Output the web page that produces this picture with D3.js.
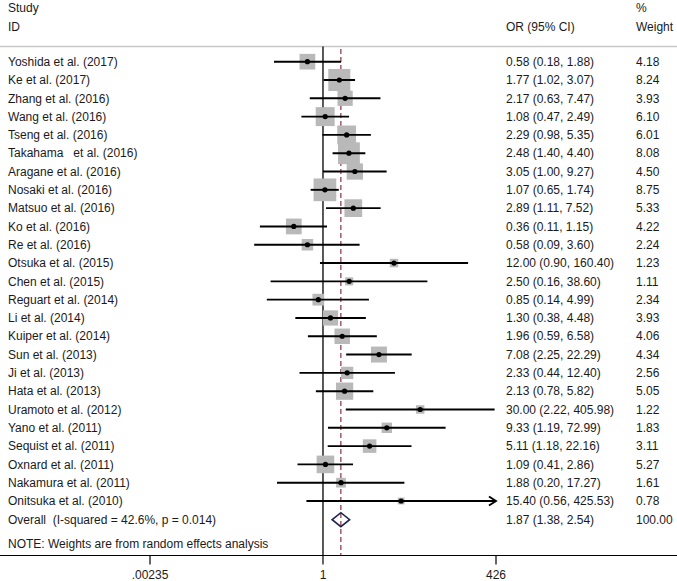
<!DOCTYPE html>
<html><head><meta charset="utf-8">
<script src="https://cdn.jsdelivr.net/npm/d3@7"></script>
<style>
body{margin:0;background:#fff;}
svg{display:block;font-family:"Liberation Sans",Arial,sans-serif;}
text{white-space:pre;}
</style></head>
<body><svg id="c" width="677" height="581"></svg>
<script>
const studies = ["Yoshida et al. (2017)","Ke et al. (2017)","Zhang et al. (2016)","Wang et al. (2016)","Tseng et al. (2016)","Takahama   et al. (2016)","Aragane et al. (2016)","Nosaki et al. (2016)","Matsuo et al. (2016)","Ko et al. (2016)","Re et al. (2016)","Otsuka et al. (2015)","Chen et al. (2015)","Reguart et al. (2014)","Li et al. (2014)","Kuiper et al. (2014)","Sun et al. (2013)","Ji et al. (2013)","Hata et al. (2013)","Uramoto et al. (2012)","Yano et al. (2011)","Sequist et al. (2011)","Oxnard et al. (2011)","Nakamura et al. (2011)","Onitsuka et al. (2010)"];
const orValues = [0.58,1.77,2.17,1.08,2.29,2.48,3.05,1.07,2.89,0.36,0.58,12.00,2.50,0.85,1.30,1.96,7.08,2.33,2.13,30.00,9.33,5.11,1.09,1.88,15.40];
const lowerCI = [0.18,1.02,0.63,0.47,0.98,1.40,1.00,0.65,1.11,0.11,0.09,0.90,0.16,0.14,0.38,0.59,2.25,0.44,0.78,2.22,1.19,1.18,0.41,0.20,0.56];
const upperCI = [1.88,3.07,7.47,2.49,5.35,4.40,9.27,1.74,7.52,1.15,3.60,160.40,38.60,4.99,4.48,6.58,22.29,12.40,5.82,405.98,72.99,22.16,2.86,17.27,425.53];
const weights = [4.18,8.24,3.93,6.10,6.01,8.08,4.50,8.75,5.33,4.22,2.24,1.23,1.11,2.34,3.93,4.06,4.34,2.56,5.05,1.22,1.83,3.11,5.27,1.61,0.78];
const overall = {label:"Overall  (I-squared = 42.6%, p = 0.014)", or:1.87, lo:1.38, hi:2.54, w:100.00};
const tickValues = [0.00235, 1, 426];
const tickLabels = [".00235", "1", "426"];
const noteText = "NOTE: Weights are from random effects analysis";

const svg = d3.select("#c");
const x = d3.scaleLog().domain([0.00235, 426]).range([150, 496]);
const y = d3.scalePoint().domain(d3.range(studies.length)).range([61.7, 501]);
const yOverall = 519.7;
const side = d3.scaleSqrt().domain([0, 8.75]).range([0, 22.7]);
const txt = "#1a1a1a";
const fs = 12;

function t(xp, yp, s, anchor){
  return svg.append("text").attr("x", xp).attr("y", yp).attr("dy","0.35em")
    .attr("font-size", fs).attr("fill", txt).attr("text-anchor", anchor||"start").text(s);
}

// header
t(8, 8, "Study"); t(8, 27, "ID");
t(506, 27, "OR (95% CI)");
t(636, 8, "%"); t(636, 27, "Weight");
svg.append("line").attr("x1",0).attr("x2",677).attr("y1",46.5).attr("y2",46.5)
  .attr("stroke","#c8c8c8").attr("stroke-width",1.5);

// axis
const axisY = 555.5;
svg.append("line").attr("x1",0).attr("x2",677).attr("y1",axisY).attr("y2",axisY)
  .attr("stroke","#000").attr("stroke-width",1.2);
tickValues.forEach((v,i)=>{
  svg.append("line").attr("x1",x(v)).attr("x2",x(v)).attr("y1",axisY).attr("y2",axisY+9)
    .attr("stroke","#000").attr("stroke-width",1.2);
  t(x(v), 575, tickLabels[i], "middle");
});

// null line
svg.append("line").attr("x1",x(1)).attr("x2",x(1)).attr("y1",46.5).attr("y2",axisY)
  .attr("stroke","#000").attr("stroke-width",1.3);
// overall dashed line
svg.append("line").attr("x1",x(overall.or)).attr("x2",x(overall.or)).attr("y1",49).attr("y2",axisY)
  .attr("stroke","#8b1a2b").attr("stroke-width",1.1).attr("stroke-dasharray","5,3");

// squares
const g = svg.append("g");
studies.forEach((s,i)=>{
  const cx = x(orValues[i]), cy = y(i), w = side(weights[i]);
  g.append("rect").attr("x", cx - w/2).attr("y", cy - w/2).attr("width", w).attr("height", w)
    .attr("fill","#b9b9b9");
});
studies.forEach((s,i)=>{
  const cy = y(i);
  const hiX = Math.min(x(upperCI[i]), x.range()[1]);
  g.append("line").attr("x1", x(lowerCI[i])).attr("x2", hiX).attr("y1", cy).attr("y2", cy)
    .attr("stroke","#000").attr("stroke-width",1.9);
  if (upperCI[i] >= 425) {
    g.append("path").attr("d", `M${hiX-7},${cy-4.5}L${hiX},${cy}L${hiX-7},${cy+4.5}`)
      .attr("fill","none").attr("stroke","#000").attr("stroke-width",1.9);
  }
  g.append("circle").attr("cx", x(orValues[i])).attr("cy", cy).attr("r", 2.6).attr("fill","#000");
  t(8, cy, s);
  t(506, cy, `${orValues[i].toFixed(2)} (${lowerCI[i].toFixed(2)}, ${upperCI[i].toFixed(2)})`);
  t(636, cy, weights[i].toFixed(2));
});

// overall diamond
const dh = 7;
svg.append("path")
  .attr("d", `M${x(overall.lo)},${yOverall}L${x(overall.or)},${yOverall-dh}L${x(overall.hi)},${yOverall}L${x(overall.or)},${yOverall+dh}Z`)
  .attr("fill","none").attr("stroke","#1c2550").attr("stroke-width",1.6);
t(8, yOverall, overall.label);
t(506, yOverall, `${overall.or.toFixed(2)} (${overall.lo.toFixed(2)}, ${overall.hi.toFixed(2)})`);
t(636, yOverall, overall.w.toFixed(2));
t(8, 544, noteText);
</script></body></html>
